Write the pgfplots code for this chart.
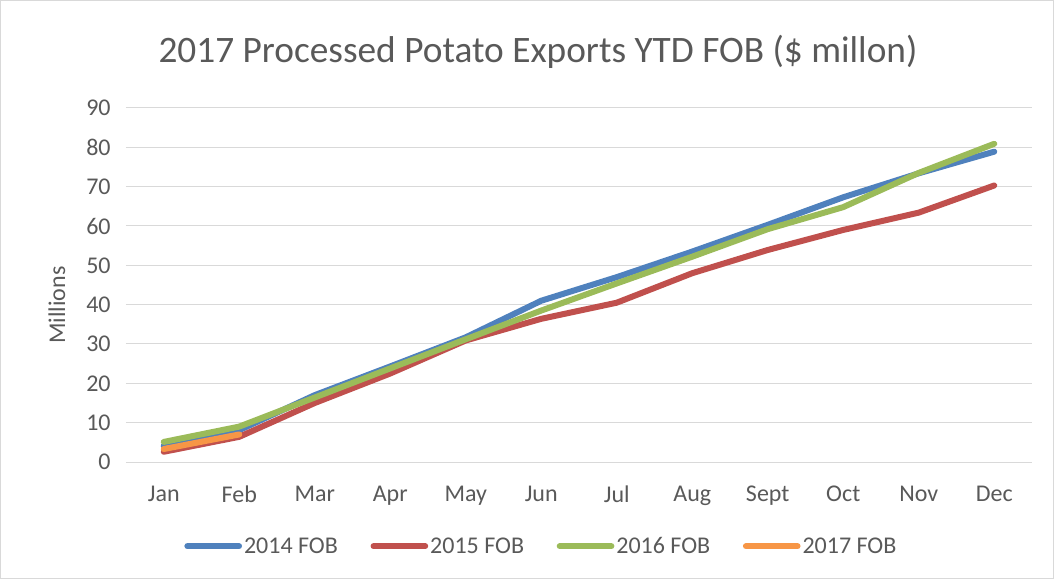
\documentclass[border=0pt]{standalone}
\usepackage{fontspec}
\setmainfont{Carlito}
\usepackage{pgfplots}
\pgfplotsset{compat=1.18}
\definecolor{cA}{HTML}{4F81BD}
\definecolor{cB}{HTML}{C0504D}
\definecolor{cC}{HTML}{9BBB59}
\definecolor{cD}{HTML}{F79646}
\definecolor{txt}{HTML}{595959}
\definecolor{gridc}{HTML}{D9D9D9}
\begin{document}
\begin{tikzpicture}[x=0.75pt,y=0.75pt]
\useasboundingbox (0,0) rectangle (1054,579);
\draw[gridc, line width=0.75pt] (0.5,0.5) rectangle (1053.5,578.5);
\node[text=txt, font=\fontsize{28}{34}\selectfont] at (538,527) {2017 Processed Potato Exports YTD FOB (\$ millon)};
\node[text=txt, font=\fontsize{18}{22}\selectfont, rotate=90] at (57,274) {Millions};
\begin{axis}[
  at={(94.5pt,87.75pt)}, anchor=south west,
  scale only axis, width=679.5pt, height=265.5pt,
  xmin=-0.5, xmax=11.5, ymin=0, ymax=90,
  ytick={0,10,...,90},
  xtick={0,...,11},
  xticklabels={Jan,Feb,Mar,Apr,May,Jun,Jul,Aug,Sept,Oct,Nov,Dec},
  ymajorgrids,
  grid style={gridc, line width=0.75pt},
  axis line style={draw=none},
  major tick length=0pt,
  tick label style={text=txt, font=\fontsize{18}{22}\selectfont},
  /pgf/number format/assume math mode=true,
  yticklabel style={xshift=-8pt},
  xticklabel style={yshift=-14.5pt},
  clip=false,
  every axis plot/.append style={line width=4.5pt, line join=round, line cap=round, mark=none},
  legend style={at={(0.4585,-0.238)}, anchor=center, draw=none, fill=none,
    legend columns=4, font=\fontsize{18}{22}\selectfont, text=txt,
    /tikz/every even column/.append style={column sep=23pt},
    nodes={inner sep=1.5pt}},
  legend image code/.code={\draw[#1, line width=4.5pt, line cap=round] (2.25pt,0pt) -- (41pt,0pt);},
]
\addplot[cA] coordinates {(0,4.1) (1,8.1) (2,17.0) (3,24.3) (4,31.7) (5,41.0) (6,47.0) (7,53.5) (8,60.3) (9,67.3) (10,73.4) (11,78.9)};
\addlegendentry{2014 FOB}
\addplot[cB] coordinates {(0,2.6) (1,6.4) (2,15.0) (3,22.5) (4,30.9) (5,36.4) (6,40.5) (7,48.0) (8,53.9) (9,59.0) (10,63.4) (11,70.3)};
\addlegendentry{2015 FOB}
\addplot[cC] coordinates {(0,5.1) (1,9.0) (2,16.4) (3,23.8) (4,31.2) (5,38.5) (6,45.4) (7,52.2) (8,59.2) (9,64.8) (10,73.5) (11,80.9)};
\addlegendentry{2016 FOB}
\addplot[cD] coordinates {(0,3.3) (1,7.0)};
\addlegendentry{2017 FOB}
\end{axis}
\end{tikzpicture}
\end{document}
